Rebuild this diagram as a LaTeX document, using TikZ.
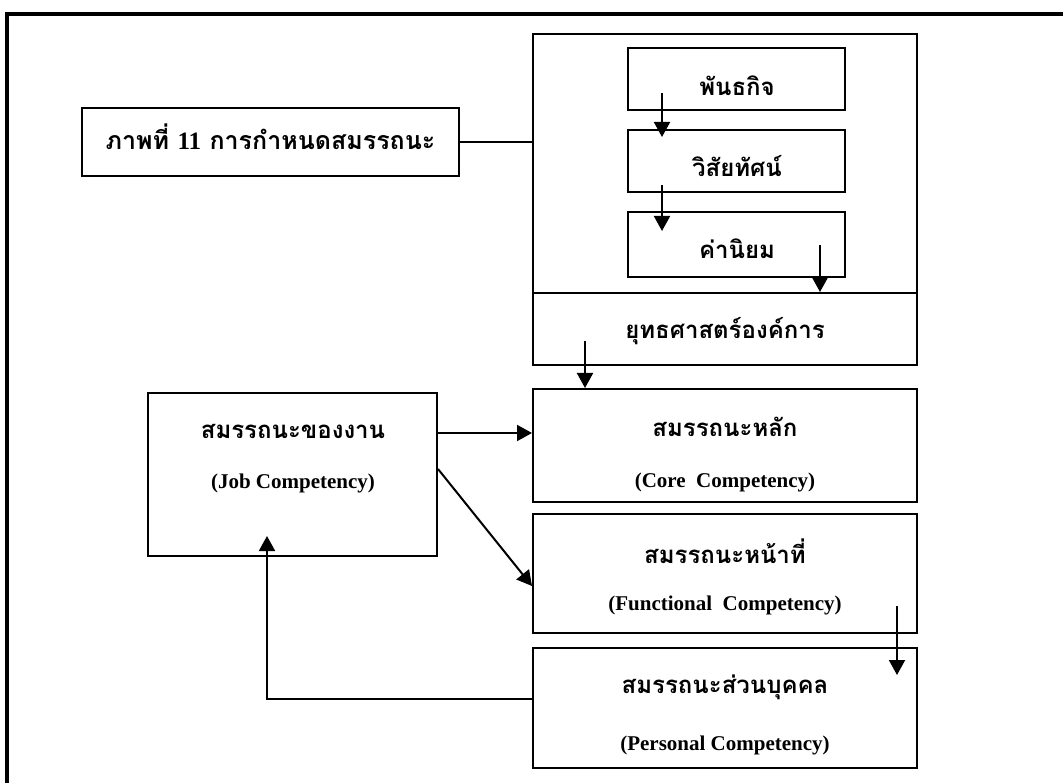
\documentclass[tikz,border=0pt]{standalone}
\usepackage{fontspec}
\setmainfont{Liberation Serif}
\newfontfamily\thai[Script=Thai]{Loma}
\usetikzlibrary{arrows.meta,calc}

\begin{document}
\begin{tikzpicture}[x=1pt,y=-1pt,
  box/.style={draw, line width=2pt, inner sep=0pt},
  arr/.style={-{Triangle[length=15pt,width=16pt]}, line width=2pt},
  th/.style={font=\thai\bfseries\fontsize{24}{28}\selectfont, inner sep=0pt},
  en/.style={font=\bfseries\fontsize{21}{24}\selectfont, inner sep=0pt}]
\useasboundingbox (0,0) rectangle (1063,783);

% open frame: top and left edges only
\draw[line width=3.2pt] (7,783) -- (7,14) -- (1063,14);

% boxes
\node[box, minimum width=377pt, minimum height=68pt] (title) at (270.5,142) {};
\node[box, minimum width=384pt, minimum height=259pt] (vmv) at (725,163.5) {};
\node[box, minimum width=384pt, minimum height=72pt] (strategy) at (725,329) {};
\node[box, minimum width=217pt, minimum height=62pt] (mission) at (736.5,79) {};
\node[box, minimum width=217pt, minimum height=62pt] (vision) at (736.5,161) {};
\node[box, minimum width=217pt, minimum height=65pt] (values) at (736.5,244.5) {};
\node[box, minimum width=384pt, minimum height=113pt] (core) at (725,445.5) {};
\node[box, minimum width=384pt, minimum height=119pt] (func) at (725,573.5) {};
\node[box, minimum width=384pt, minimum height=120pt] (pers) at (725,708) {};
\node[box, minimum width=289pt, minimum height=163pt] (job) at (292.5,474.5) {};

% labels
\node[th, font=\thai\bfseries\fontsize{25}{28}\selectfont] (ttitle) at (270.5,137) {ภาพที่ {\rmfamily 11} การกำหนดสมรรถนะ};
\node[th] (tmission) at (737,86) {พันธกิจ};
\node[th] (tvision) at (737,166) {วิสัยทัศน์};
\node[th] (tvalues) at (737,249) {ค่านิยม};
\node[th] (tstrategy) at (725,331) {ยุทธศาสตร์องค์การ};
\node[th] (tcore) at (725,427) {สมรรถนะหลัก};
\node[en] (ecore) at (725,482) {(Core\ \ Competency)};
\node[th] (tfunc) at (725,551) {สมรรถนะหน้าที่};
\node[en] (efunc) at (725,605) {(Functional\ \ Competency)};
\node[th] (tpers) at (725,687) {สมรรถนะส่วนบุคคล};
\node[en] (epers) at (725,745) {(Personal Competency)};
\node[th] (tjob) at (293,431) {สมรรถนะของงาน};
\node[en] (ejob) at (293,483) {(Job Competency)};

% connectors
\draw[line width=2pt] (title.east) -- (title.east -| vmv.west);
\draw[arr] ($(mission.south west)+(35,-18)$) -- ($(vision.north west)+(35,8)$);
\draw[arr] ($(vision.south west)+(35,-8)$) -- ($(values.north west)+(35,20)$);
\draw[arr] ($(values.south east)+(-26,-33)$) -- ($(strategy.north east)+(-98,0)$);
\draw[arr] ($(strategy.south west)+(53,-25)$) -- ($(core.north west)+(53,0)$);
\coordinate (jc) at ($(job.north east)+(0,41)$);
\draw[arr] (jc) -- (jc -| core.west);
\draw[arr] ($(job.north east)+(0,77)$) -- ($(func.north west)+(0,73)$);
\draw[arr] ($(func.south east)+(-21,-28)$) -- ($(pers.north east)+(-21,28)$);
\draw[arr] ($(pers.north west)+(0,52)$) -| ($(job.south west)+(120,-21)$);
\end{tikzpicture}
\end{document}
